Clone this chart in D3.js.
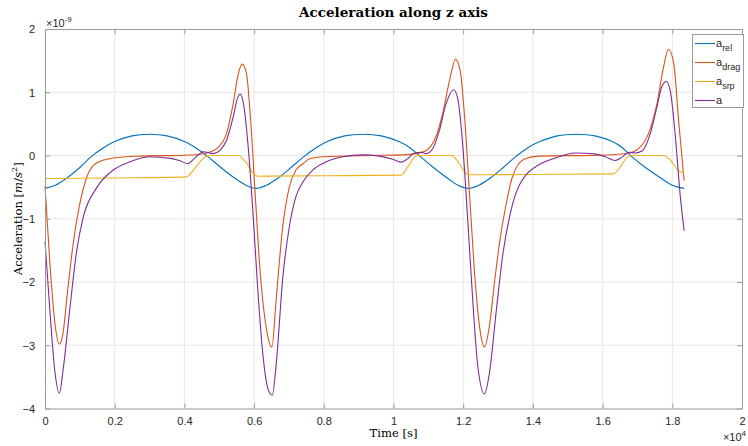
<!DOCTYPE html>
<html>
<head>
<meta charset="utf-8">
<script src="https://cdn.jsdelivr.net/npm/d3@7"></script>
<style>
  body { margin: 0; background: #fff; }
  svg { display: block; }
  .tick-label { font-family: "Liberation Sans", Arial, sans-serif; font-size: 11px; fill: #262626; }
  .serif { font-family: "DejaVu Serif", "Liberation Serif", serif; fill: #000; }
</style>
</head>
<body>
<svg id="chart" width="748" height="446"></svg>
<script>
// time in units of 1e4 s, acceleration in units of 1e-9 m/s^2

const tRel = [0, 0.03, 0.062, 0.10, 0.13, 0.17, 0.20, 0.25, 0.30, 0.35, 0.40, 0.43, 0.47, 0.50, 0.545, 0.577, 0.606,
  0.636, 0.668, 0.706, 0.74, 0.78, 0.81, 0.86, 0.913, 0.965, 1.015, 1.045, 1.08, 1.11, 1.155, 1.185, 1.215,
  1.245, 1.277, 1.315, 1.348, 1.388, 1.42, 1.47, 1.525, 1.578, 1.628, 1.655, 1.686, 1.718, 1.768, 1.80, 1.834]
const aRel = [-0.52, -0.47, -0.36, -0.19, -0.03, 0.13, 0.22, 0.31, 0.335, 0.31, 0.22, 0.13, -0.03, -0.17, -0.36, -0.47, -0.52,
  -0.47, -0.36, -0.19, -0.03, 0.13, 0.22, 0.31, 0.335, 0.31, 0.22, 0.13, -0.03, -0.17, -0.36, -0.47, -0.52,
  -0.47, -0.36, -0.19, -0.03, 0.13, 0.22, 0.31, 0.335, 0.31, 0.22, 0.13, -0.03, -0.17, -0.36, -0.47, -0.52]

const tDrag = [0, 0.014, 0.029, 0.041, 0.052, 0.062, 0.081, 0.10, 0.12, 0.148, 0.196, 0.273, 0.40, 0.445, 0.464, 0.493,
  0.521, 0.54, 0.555, 0.566, 0.578, 0.59, 0.603, 0.617, 0.636, 0.651, 0.663, 0.682, 0.701, 0.72, 0.74, 0.759, 0.797,
  0.93, 1.027, 1.065, 1.094, 1.122, 1.141, 1.161, 1.178, 1.191, 1.204, 1.218, 1.232, 1.247, 1.261, 1.275, 1.29,
  1.305, 1.321, 1.34, 1.359, 1.378, 1.416, 1.588, 1.636, 1.675, 1.703, 1.732, 1.756, 1.775, 1.789, 1.804, 1.818, 1.834]
const aDrag = [-0.48, -1.70, -2.68, -2.98, -2.80, -2.29, -1.39, -0.76, -0.34, -0.12, -0.04, -0.01, 0.005, 0.02, 0.04, 0.11,
  0.35, 0.82, 1.30, 1.445, 1.30, 0.56, -0.60, -1.81, -2.76, -3.03, -2.30, -1.13, -0.50, -0.23, -0.13, -0.05, -0.02,
  0.0, 0.01, 0.03, 0.08, 0.30, 0.66, 1.19, 1.52, 1.35, 0.61, -0.60, -1.81, -2.71, -3.03, -2.70, -2.0,
  -1.35, -0.83, -0.36, -0.13, -0.05, -0.01, 0.005, 0.016, 0.04, 0.11, 0.35, 0.82, 1.40, 1.68, 1.46, 0.56, -0.40]

const tSrp = [0, 0.2, 0.406, 0.426, 0.445, 0.464, 0.48, 0.555, 0.567, 0.579, 0.598, 0.61, 0.8, 1.022, 1.041, 1.06, 1.072,
  1.168, 1.178, 1.189, 1.208, 1.22, 1.4, 1.631, 1.651, 1.67, 1.682, 1.775, 1.794, 1.813, 1.823, 1.834]
const aSrp = [-0.364, -0.355, -0.338, -0.23, -0.10, -0.01, 0, 0, -0.05, -0.127, -0.285, -0.327, -0.32, -0.31, -0.18, -0.03, 0,
  0, -0.05, -0.127, -0.285, -0.305, -0.30, -0.29, -0.18, -0.03, 0, 0, -0.07, -0.21, -0.26, -0.27]

const tTot = [0, 0.014, 0.028, 0.041, 0.053, 0.072, 0.091, 0.11, 0.147, 0.196, 0.244, 0.301, 0.359, 0.385, 0.409, 0.43,
  0.454, 0.483, 0.502, 0.521, 0.54, 0.552, 0.56, 0.571, 0.583, 0.598, 0.612, 0.628, 0.641, 0.652, 0.665, 0.682, 0.701,
  0.72, 0.74, 0.768, 0.807, 0.855, 0.912, 0.96, 0.998, 1.022, 1.041, 1.06, 1.079, 1.094, 1.113, 1.132, 1.151, 1.173,
  1.185, 1.199, 1.213, 1.228, 1.242, 1.261, 1.275, 1.295, 1.314, 1.333, 1.348, 1.362, 1.378, 1.416, 1.464, 1.521,
  1.569, 1.608, 1.636, 1.655, 1.675, 1.694, 1.713, 1.737, 1.756, 1.77, 1.783, 1.794, 1.808, 1.823, 1.834]
const aTot = [-1.36, -2.45, -3.40, -3.76, -3.34, -2.39, -1.50, -0.97, -0.52, -0.23, -0.10, -0.02, -0.045, -0.08, -0.127, -0.04,
  0.06, 0.03, 0.08, 0.24, 0.61, 0.90, 0.97, 0.77, 0.14, -1.02, -2.24, -3.29, -3.71, -3.79, -3.20, -1.95, -1.13,
  -0.65, -0.42, -0.23, -0.10, -0.02, 0.01, -0.01, -0.06, -0.105, -0.05, 0.04, 0.05, 0.03, 0.11, 0.40, 0.82, 1.04,
  0.88, 0.14, -1.02, -2.34, -3.34, -3.77, -3.45, -2.45, -1.55, -0.97, -0.65, -0.46, -0.32, -0.15, -0.04, 0.04,
  0.03, -0.02, -0.08, -0.03, 0.05, 0.04, 0.07, 0.35, 0.77, 1.09, 1.17, 1.03, 0.35, -0.65, -1.19]

const xTicks = [0, 0.2, 0.4, 0.6, 0.8, 1, 1.2, 1.4, 1.6, 1.8, 2]
const yTicks = [-4, -3, -2, -1, 0, 1, 2]

const seriesNames = ["rel", "drag", "srp", ""]
const colors = ["#0072BD", "#D95319", "#EDB120", "#7E2F8E"]

const series = [
  { t: tRel, a: aRel, curve: d3.curveCatmullRom.alpha(0.5) },
  { t: tDrag, a: aDrag, curve: d3.curveMonotoneX },
  { t: tSrp, a: aSrp, curve: d3.curveMonotoneX },
  { t: tTot, a: aTot, curve: d3.curveMonotoneX }
]

const M = { left: 45, right: 742, top: 29, bottom: 408.5 }
const TICK = 5

const svg = d3.select("#chart")

const x = d3.scaleLinear().domain([0, 2]).range([M.left, M.right])
const y = d3.scaleLinear().domain([-4, 2]).range([M.bottom, M.top])

// grid
const grid = svg.append("g").attr("stroke", "#e8e8e8").attr("stroke-width", 1)
xTicks.slice(1, -1).forEach((d) => {
  grid.append("line").attr("x1", x(d)).attr("x2", x(d)).attr("y1", M.top).attr("y2", M.bottom)
})
yTicks.slice(1, -1).forEach((d) => {
  grid.append("line").attr("x1", M.left).attr("x2", M.right).attr("y1", y(d)).attr("y2", y(d))
})

// curves
const plot = svg.append("g")
series.forEach((s, i) => {
  const pts = s.t.map((t, j) => [x(t), y(s.a[j])])
  plot.append("path")
    .attr("d", d3.line().curve(s.curve)(pts))
    .attr("fill", "none")
    .attr("stroke", colors[i])
    .attr("stroke-width", 1.1)
})

// axes box with inward ticks on all sides
const axisColor = "#9a9a9a"
const axB = svg.append("g").attr("transform", `translate(0,${M.bottom})`)
  .call(d3.axisBottom(x).tickValues(xTicks).tickSizeInner(-TICK).tickSizeOuter(0).tickPadding(9)
    .tickFormat((d) => d3.format("~g")(d)))
const axT = svg.append("g").attr("transform", `translate(0,${M.top})`)
  .call(d3.axisTop(x).tickValues(xTicks).tickSizeInner(-TICK).tickSizeOuter(0).tickFormat(""))
const axL = svg.append("g").attr("transform", `translate(${M.left},0)`)
  .call(d3.axisLeft(y).tickValues(yTicks).tickSizeInner(-TICK).tickSizeOuter(0).tickPadding(10)
    .tickFormat((d) => d3.format("d")(d)))
const axR = svg.append("g").attr("transform", `translate(${M.right},0)`)
  .call(d3.axisRight(y).tickValues(yTicks).tickSizeInner(-TICK).tickSizeOuter(0).tickFormat(""))

;[axB, axT, axL, axR].forEach((g) => {
  g.selectAll("path.domain").attr("stroke", axisColor)
  g.selectAll(".tick line").attr("stroke", axisColor)
  g.selectAll(".tick text").attr("class", "tick-label").attr("fill", null)
  g.attr("font-family", null).attr("font-size", null)
})
axL.selectAll(".tick text").attr("dy", "0.35em")

// exponent labels
const expY = svg.append("text").attr("class", "tick-label").attr("x", 46).attr("y", 27)
expY.append("tspan").text("\u00d710")
expY.append("tspan").attr("font-size", "8px").attr("dy", -5).text("-9")

const expX = svg.append("text").attr("class", "tick-label").attr("x", 746).attr("y", 441).attr("text-anchor", "end")
expX.append("tspan").text("\u00d710")
expX.append("tspan").attr("font-size", "8px").attr("dy", -5).text("4")

// fit a text element to a target width by adjusting its font size
function fitWidth(sel, target) {
  const w = sel.node().getComputedTextLength()
  const fs = parseFloat(sel.attr("font-size"))
  sel.attr("font-size", (fs * target / w).toFixed(2))
}

// title
const title = svg.append("text").attr("class", "serif")
  .attr("x", (M.left + M.right) / 2).attr("y", 17)
  .attr("text-anchor", "middle").attr("font-weight", "bold").attr("font-size", 13)
  .text("Acceleration along z axis")
fitWidth(title, 189)

// x label
const xlab = svg.append("text").attr("class", "serif")
  .attr("x", (M.left + M.right) / 2).attr("y", 437)
  .attr("text-anchor", "middle").attr("font-size", 13)
  .text("Time [s]")
fitWidth(xlab, 48)
const labFs = +xlab.attr("font-size")

// y label
const ylab = svg.append("text").attr("class", "serif")
  .attr("transform", `translate(22,${(M.top + M.bottom) / 2}) rotate(-90)`)
  .attr("text-anchor", "middle").attr("font-size", labFs)
ylab.append("tspan").text("Acceleration [")
ylab.append("tspan").attr("font-style", "italic").text("m")
ylab.append("tspan").text("/")
ylab.append("tspan").attr("font-style", "italic").text("s")
ylab.append("tspan").attr("font-size", (labFs * 0.7).toFixed(2)).attr("dy", -5).text("2")
ylab.append("tspan").attr("dy", 5).text("]")

// legend
const leg = svg.append("g")
leg.append("rect").attr("x", 692.5).attr("y", 34.5).attr("width", 51).attr("height", 73)
  .attr("fill", "#fff").attr("stroke", axisColor).attr("stroke-width", 1)
const rowY = [43.5, 62.5, 81.5, 100.5]
seriesNames.forEach((name, i) => {
  leg.append("line").attr("x1", 695).attr("x2", 715).attr("y1", rowY[i]).attr("y2", rowY[i])
    .attr("stroke", colors[i]).attr("stroke-width", 1.1)
  const t = leg.append("text").attr("class", "tick-label").attr("x", 716).attr("y", rowY[i] + 3)
  t.append("tspan").text("a")
  if (name) t.append("tspan").attr("font-size", "9px").attr("dy", 4).text(name)
})
</script>
</body>
</html>
